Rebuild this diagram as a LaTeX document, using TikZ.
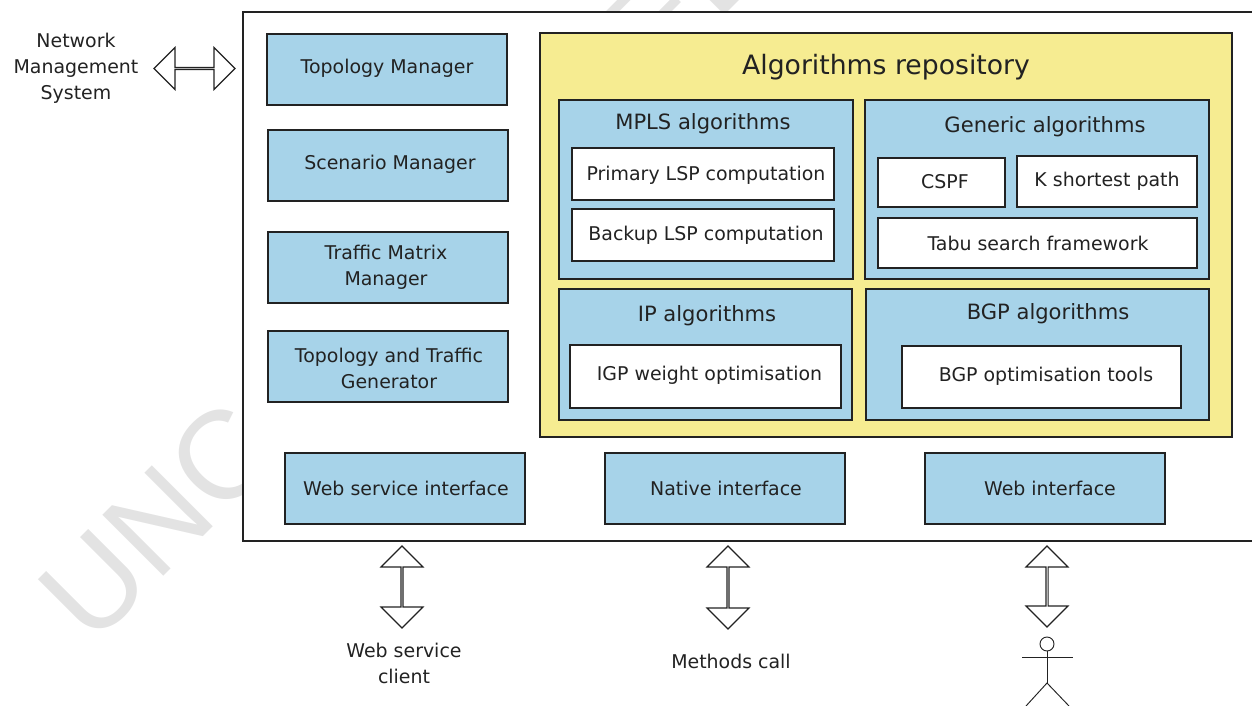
\documentclass[tikz,border=0pt]{standalone}
\usepackage{fontspec}
\setmainfont{DejaVu Sans}
\newfontfamily\wmfont{Liberation Sans}
\usetikzlibrary{shapes.arrows}
\definecolor{panelblue}{HTML}{A7D3E9}
\definecolor{repoyellow}{HTML}{F6EC91}
\definecolor{ink}{HTML}{222222}
\definecolor{wmgray}{HTML}{E3E3E3}
\tikzset{
  x=0.75pt,y=-0.75pt,
  frame/.style={draw=ink,line width=0.9pt,inner sep=0pt,outer sep=0pt},
  bluebox/.style={frame,fill=panelblue},
  whitebox/.style={frame,fill=white},
  yellowbox/.style={frame,fill=repoyellow},
  lab/.style={text=ink,font=\fontsize{14.2pt}{19.5pt}\selectfont,align=center,inner sep=0pt},
  headlab/.style={text=ink,font=\fontsize{15.8pt}{20pt}\selectfont,align=center,inner sep=0pt},
  titlelab/.style={text=ink,font=\fontsize{20pt}{24pt}\selectfont,align=center,inner sep=0pt},
  dblarrow/.style={draw=ink,fill=white,line width=0.9pt,double arrow,inner sep=0pt,outer sep=0pt,
    double arrow head extend=8.25pt,minimum width=31.5pt,shape border rotate=#1},
  dblarrow/.default=0,
  stick/.style={draw=ink,line width=0.7pt},
}
\newcommand{\bx}[6]{% style name x1 y1 x2 y2
  \pgfmathsetlengthmacro{\bxw}{(#5-#3)*0.75pt}%
  \pgfmathsetlengthmacro{\bxh}{(#6-#4)*0.75pt}%
  \pgfmathsetmacro{\bxx}{(#3+#5)/2}%
  \pgfmathsetmacro{\bxy}{(#4+#6)/2}%
  \node[#1,minimum width=\bxw,minimum height=\bxh] (#2) at (\bxx,\bxy) {};
}
\begin{document}
\begin{tikzpicture}
\useasboundingbox (0,0) rectangle (1252,706);
\begin{scope}
\clip (0,0) rectangle (1252,706);
\node[rotate=45,anchor=base west,text=wmgray,inner sep=0pt,
  font=\wmfont\fontsize{94pt}{94pt}\selectfont] (wm) at (92,648) {UNCORRECTED PROOF};
\end{scope}
\bx{frame,fill=white}{outer}{243}{12}{1262}{541}
% left column
\bx{bluebox}{topo}{267}{34}{507}{105}
\bx{bluebox}{scen}{268}{130}{508}{201}
\bx{bluebox}{tmm}{268}{232}{508}{303}
\bx{bluebox}{ttg}{268}{331}{508}{402}
\node[lab] (topot) at (387,68) {Topology Manager};
\node[lab] (scent) at (390,164) {Scenario Manager};
\node[lab] (tmmt) at (386,267) {Traffic Matrix\\Manager};
\node[lab] (ttgt) at (389,368) {Topology and Traffic\\Generator};
% bottom row
\bx{bluebox}{wsi}{285}{453}{525}{524}
\bx{bluebox}{nat}{605}{453}{845}{524}
\bx{bluebox}{web}{925}{453}{1165}{524}
\node[lab] (wsit) at (406,488) {Web service interface};
\node[lab] (natt) at (726,488) {Native interface};
\node[lab] (webt) at (1050,488) {Web interface};
% repository
\bx{yellowbox}{repo}{540}{33}{1232}{437}
\node[titlelab] (repot) at (886,67) {Algorithms repository};
\bx{bluebox}{mpls}{559}{100}{853}{279}
\bx{bluebox}{gen}{865}{100}{1209}{279}
\bx{bluebox}{ip}{559}{289}{852}{420}
\bx{bluebox}{bgp}{866}{289}{1209}{420}
\node[headlab] (mplst) at (703,124) {MPLS algorithms};
\node[headlab] (gent) at (1045,127) {Generic algorithms};
\node[headlab] (ipt) at (707,316) {IP algorithms};
\node[headlab] (bgpt) at (1048,314) {BGP algorithms};
\bx{whitebox}{prim}{572}{148}{834}{200}
\bx{whitebox}{back}{572}{209}{834}{261}
\bx{whitebox}{cspf}{878}{158}{1005}{207}
\bx{whitebox}{ksp}{1017}{156}{1197}{207}
\bx{whitebox}{tabu}{878}{218}{1197}{268}
\bx{whitebox}{igp}{570}{345}{841}{408}
\bx{whitebox}{bgpo}{902}{346}{1181}{408}
\node[lab] (primt) at (706,175) {Primary LSP computation};
\node[lab] (backt) at (706,235) {Backup LSP computation};
\node[lab] (cspft) at (945,182) {CSPF};
\node[lab] (kspt) at (1107,181) {K shortest path};
\node[lab] (tabut) at (1038,243) {Tabu search framework};
\node[lab] (igpt) at (709.5,375) {IGP weight optimisation};
\node[lab] (bgpot) at (1046,376) {BGP optimisation tools};
% external
\node[lab] (nms) at (76,68) {Network\\Management\\System};
\node[lab] (wsc) at (404,663) {Web service\\client};
\node[lab] (mc) at (731,661) {Methods call};
\node[dblarrow,minimum height=60.75pt] (a0) at (194.5,68.5) {};
\node[dblarrow,rotate=90,minimum height=61.5pt] (a1) at (402,587) {};
\node[dblarrow,rotate=90,minimum height=62.25pt] (a2) at (728,587.5) {};
\node[dblarrow,rotate=90,minimum height=60.75pt] (a3) at (1047,586.5) {};
% person
\node[stick,circle,minimum size=10.5pt,inner sep=0pt,outer sep=0pt] (head) at (1047,644) {};
\coordinate (hip) at (1047,683);
\coordinate (armL) at (1022,657);
\coordinate (armR) at (1073,657);
\coordinate (footL) at (1026,706);
\coordinate (footR) at (1069,706);
\draw[stick] (head.south) -- (hip);
\draw[stick] (armL) -- (armR);
\draw[stick] (footL) -- (hip) -- (footR);
\end{tikzpicture}
\end{document}
